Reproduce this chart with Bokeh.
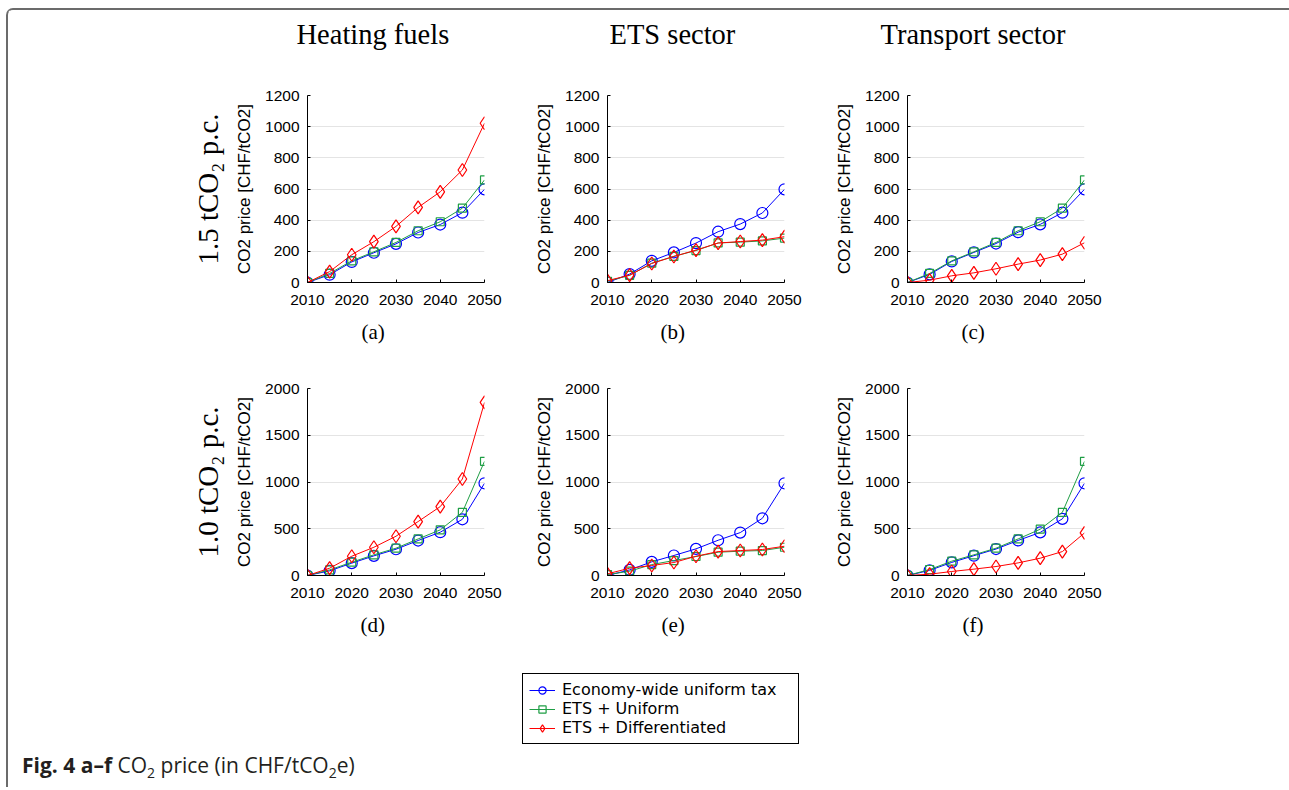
from bokeh.plotting import figure
from bokeh.layouts import row, column
from bokeh.models import (Title, LinearAxis, FixedTicker, Range1d, Legend, LegendItem,
                          Div, Spacer, ColumnDataSource)
from bokeh.embed import file_html
from bokeh.resources import INLINE

years = [2010, 2015, 2020, 2025, 2030, 2035, 2040, 2045, 2050]
x_ticks = [2010, 2020, 2030, 2040, 2050]

series_names = ["Economy-wide uniform tax", "ETS + Uniform", "ETS + Differentiated"]
col_titles = ["Heating fuels", "ETS sector", "Transport sector"]
row_labels = ["1.5 tCO\u2082 p.c.", "1.0 tCO\u2082 p.c."]
sub_labels = ["(a)", "(b)", "(c)", "(d)", "(e)", "(f)"]
y_label = "CO2 price [CHF/tCO2]"

# ---- 1.5 tCO2 p.c. ----
heat_uniform_15 = [0, 50, 132, 191, 248, 321, 372, 448, 598]
heat_ets_uni_15 = [0, 58, 139, 197, 257, 332, 390, 477, 658]
heat_ets_diff_15 = [0, 70, 178, 262, 360, 482, 582, 722, 1022]

ets_uniform_15 = [0, 54, 139, 193, 253, 326, 375, 446, 598]
ets_ets_uni_15 = [8, 46, 124, 168, 205, 254, 259, 267, 285]
ets_ets_diff_15 = [12, 47, 122, 167, 208, 253, 263, 272, 294]

trans_uniform_15 = [0, 52, 135, 193, 250, 323, 373, 448, 598]
trans_ets_uni_15 = [0, 58, 139, 197, 257, 332, 390, 477, 658]
trans_ets_diff_15 = [0, 15, 43, 62, 88, 118, 144, 182, 255]

# ---- 1.0 tCO2 p.c. ----
heat_uniform_10 = [0, 50, 132, 210, 281, 374, 463, 601, 986]
heat_ets_uni_10 = [0, 60, 142, 221, 292, 391, 488, 676, 1221]
heat_ets_diff_10 = [0, 78, 206, 302, 420, 577, 737, 1032, 1851]

ets_uniform_10 = [0, 60, 146, 214, 285, 377, 459, 612, 986]
ets_ets_uni_10 = [10, 46, 117, 160, 203, 249, 260, 267, 302]
ets_ets_diff_10 = [18, 78, 107, 139, 206, 256, 267, 278, 313]

trans_uniform_10 = [0, 55, 140, 212, 283, 375, 461, 606, 986]
trans_ets_uni_10 = [0, 64, 153, 221, 292, 391, 495, 676, 1221]
trans_ets_diff_10 = [0, 14, 43, 68, 96, 135, 185, 256, 455]

panel_data = [
    (heat_uniform_15, heat_ets_uni_15, heat_ets_diff_15),
    (ets_uniform_15, ets_ets_uni_15, ets_ets_diff_15),
    (trans_uniform_15, trans_ets_uni_15, trans_ets_diff_15),
    (heat_uniform_10, heat_ets_uni_10, heat_ets_diff_10),
    (ets_uniform_10, ets_ets_uni_10, ets_ets_diff_10),
    (trans_uniform_10, trans_ets_uni_10, trans_ets_diff_10),
]
y_max = [1200, 2000]
y_step = [200, 500]

BLUE = "#0000ff"
GREEN = "#1f9e45"
RED = "#ff0000"
SERIF = "Liberation Serif"
SANS = "Liberation Sans"

title_offsets = [-11, 2, -27]
sub_offsets = [54, 53, 54, 53, 54, 55]


def make_panel(idx):
    r, c = divmod(idx, 3)
    left = 299 if c == 0 else 77
    top = 85 if r == 0 else 28
    bottom = 78 if r == 0 else 85
    p = figure(width=left + 177 + 46, height=top + 187 + bottom,
               x_range=Range1d(2010, 2050), y_range=Range1d(0, y_max[r]),
               output_backend="svg", toolbar_location=None, title=None,
               min_border_left=left, min_border_right=46,
               min_border_top=top, min_border_bottom=bottom)
    p.outline_line_color = None
    p.background_fill_color = "white"
    p.border_fill_color = "white"
    p.xgrid.grid_line_color = None
    p.ygrid.grid_line_color = "#e4e4e4"
    p.ygrid.grid_line_width = 1

    p.xaxis.ticker = FixedTicker(ticks=x_ticks)
    p.yaxis.ticker = FixedTicker(ticks=list(range(0, y_max[r] + 1, y_step[r])))
    for ax in (p.xaxis, p.yaxis):
        ax.axis_line_color = "black"
        ax.axis_line_width = 1
        ax.major_tick_in = 3
        ax.major_tick_out = 0
        ax.major_tick_line_color = "black"
        ax.minor_tick_line_color = None
        ax.major_label_text_font = SANS
        ax.major_label_text_font_size = "15.5px"
        ax.major_label_text_color = "black"
    p.xaxis.major_label_standoff = 12
    p.yaxis.major_label_standoff = 8
    p.yaxis.axis_label = y_label
    p.yaxis.axis_label_text_font = SANS
    p.yaxis.axis_label_text_font_size = "17px"
    p.yaxis.axis_label_text_font_style = "normal"
    p.yaxis.axis_label_text_color = "black"
    p.yaxis.axis_label_standoff = 8

    blue, green, red = panel_data[idx]
    src = ColumnDataSource(dict(x=years, b=blue, g=green, rr=red))
    p.line("x", "b", source=src, line_color=BLUE, line_width=1)
    p.scatter("x", "b", source=src, marker="circle", size=11, line_color=BLUE,
              fill_color=None, line_width=1.2)
    p.line("x", "g", source=src, line_color=GREEN, line_width=1)
    p.scatter("x", "g", source=src, marker="square", size=8, line_color=GREEN,
              fill_color=None, line_width=1.2)
    p.line("x", "rr", source=src, line_color=RED, line_width=1)
    p.scatter("x", "rr", source=src, marker="diamond", size=13, line_color=RED,
              fill_color=None, line_width=1.2)

    if c == 0:
        rax = LinearAxis(ticker=FixedTicker(ticks=[]), axis_line_color=None,
                         major_tick_line_color=None, minor_tick_line_color=None,
                         major_label_standoff=0, major_tick_in=0, major_tick_out=0,
                         axis_label=row_labels[r], axis_label_text_font=SERIF,
                         axis_label_text_font_size="29px",
                         axis_label_text_font_style="normal",
                         axis_label_text_color="black", axis_label_standoff=9)
        p.add_layout(rax, "left")
    if r == 0:
        # spacing element between frame and column title
        p.add_layout(Title(text=" ", standoff=28, text_font_size="10px"), "above")
        p.add_layout(Title(text=col_titles[c], align="left", offset=title_offsets[c],
                           standoff=10, text_font=SERIF, text_font_size="28.5px",
                           text_font_style="normal", text_color="black"), "above")
    p.add_layout(Title(text=sub_labels[idx], align="left", offset=sub_offsets[idx],
                       standoff=20, text_font=SERIF, text_font_size="21px",
                       text_font_style="normal", text_color="black"), "below")
    return p


panels = [make_panel(i) for i in range(6)]

# legend figure (proxy renderers lie outside the visible range)
lp = figure(width=1277, height=87, x_range=Range1d(0, 1), y_range=Range1d(0, 1),
            x_axis_location=None, y_axis_location=None, toolbar_location=None,
            output_backend="svg", min_border=0)
lp.outline_line_color = None
lp.grid.visible = False
items = []
for name, colr, mk, sz, vals in zip(series_names, [BLUE, GREEN, RED],
                                    ["circle", "square", "diamond"], [7, 6, 10],
                                    panel_data[0]):
    psrc = ColumnDataSource(dict(x=years, y=vals))
    rl = lp.line("x", "y", source=psrc, line_color=colr, line_width=1)
    rm = lp.scatter("x", "y", source=psrc, marker=mk, size=sz, line_color=colr,
                    fill_color=None, line_width=1.2)
    items.append(LegendItem(label=name, renderers=[rl, rm], index=0))
legend = Legend(items=items, location=(514, 3), orientation="vertical",
                border_line_color="black", border_line_width=1, border_line_alpha=1,
                background_fill_color="white", background_fill_alpha=1,
                label_text_font="DejaVu Sans", label_text_font_size="16px",
                label_text_color="black", glyph_width=26, glyph_height=18,
                label_height=18, label_width=230, label_standoff=7, spacing=0,
                padding=6, margin=0)
lp.add_layout(legend, "center")

cap = Div(text='<div style="font-family:\'Open Sans\'; font-size:21px; color:#231f20; '
               'margin-left:9px; line-height:26px; white-space:nowrap">'
               '<b>Fig. 4 a\u2013f</b> CO<sub style="font-size:14px">2</sub> price '
               '(in CHF/tCO<sub style="font-size:14px">2</sub>e)</div>',
          width=1277, height=30)

layout = column(
    row(panels[0], panels[1], panels[2], Spacer(width=155, height=350)),
    row(panels[3], panels[4], panels[5], Spacer(width=155, height=300)),
    lp, cap,
    styles={"border": "2px solid #6b6b6b", "border-bottom": "none",
            "border-radius": "7px 7px 0 0", "background-color": "white",
            "margin": "8px 0 0 6px"})

open("out.html", "w").write(file_html(layout, INLINE))
